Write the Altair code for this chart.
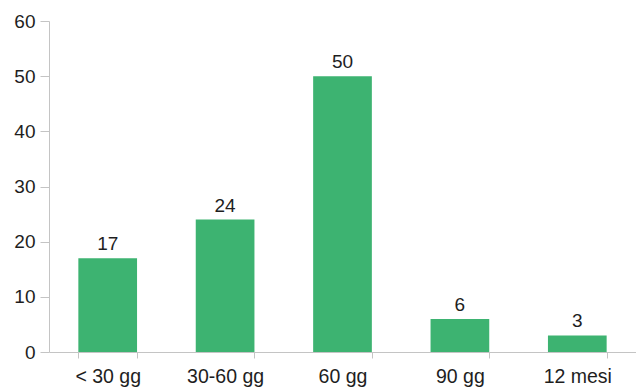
import altair as alt
import pandas as pd

# Distribution by time interval
categories = ["< 30 gg", "30-60 gg", "60 gg", "90 gg", "12 mesi"]
counts = [17, 24, 50, 6, 3]
y_ticks = [0, 10, 20, 30, 40, 50, 60]

df = pd.DataFrame({"periodo": categories, "n": counts})

FONT = "Liberation Sans"
AXIS_GRAY = "#c4c4c4"
TEXT = "#1e1e1e"

base = alt.Chart(df).encode(
    x=alt.X(
        "periodo:N",
        sort=categories,
        scale=alt.Scale(paddingInner=0.5, paddingOuter=0.25),
        axis=alt.Axis(
            title=None,
            labelAngle=0,
            tickBand="extent",
            tickSize=6,
            labelPadding=9,
            labelFontSize=19.5,
            labelFont=FONT,
            labelColor=TEXT,
            domainColor=AXIS_GRAY,
            tickColor=AXIS_GRAY,
        ),
    ),
    y=alt.Y(
        "n:Q",
        scale=alt.Scale(domain=[0, 60], nice=False),
        axis=alt.Axis(
            title=None,
            values=y_ticks,
            grid=False,
            tickSize=9,
            labelPadding=5,
            labelFontSize=19,
            labelFont=FONT,
            labelColor=TEXT,
            domainColor=AXIS_GRAY,
            tickColor=AXIS_GRAY,
        ),
    ),
)

bars = base.mark_bar(color="#3db371")
labels = base.mark_text(
    baseline="alphabetic",
    dy=-8,
    fontSize=19,
    font=FONT,
    color=TEXT,
).encode(text="n:Q")

chart = (
    (bars + labels)
    .properties(
        width=587,
        height=331,
        padding={"left": 49, "top": 21, "right": 0, "bottom": 35},
        autosize=alt.AutoSizeParams(type="none"),
        background="white",
    )
    .configure_view(stroke=None)
)

chart.save("out.html", embed_options={"renderer": "svg", "actions": False})
